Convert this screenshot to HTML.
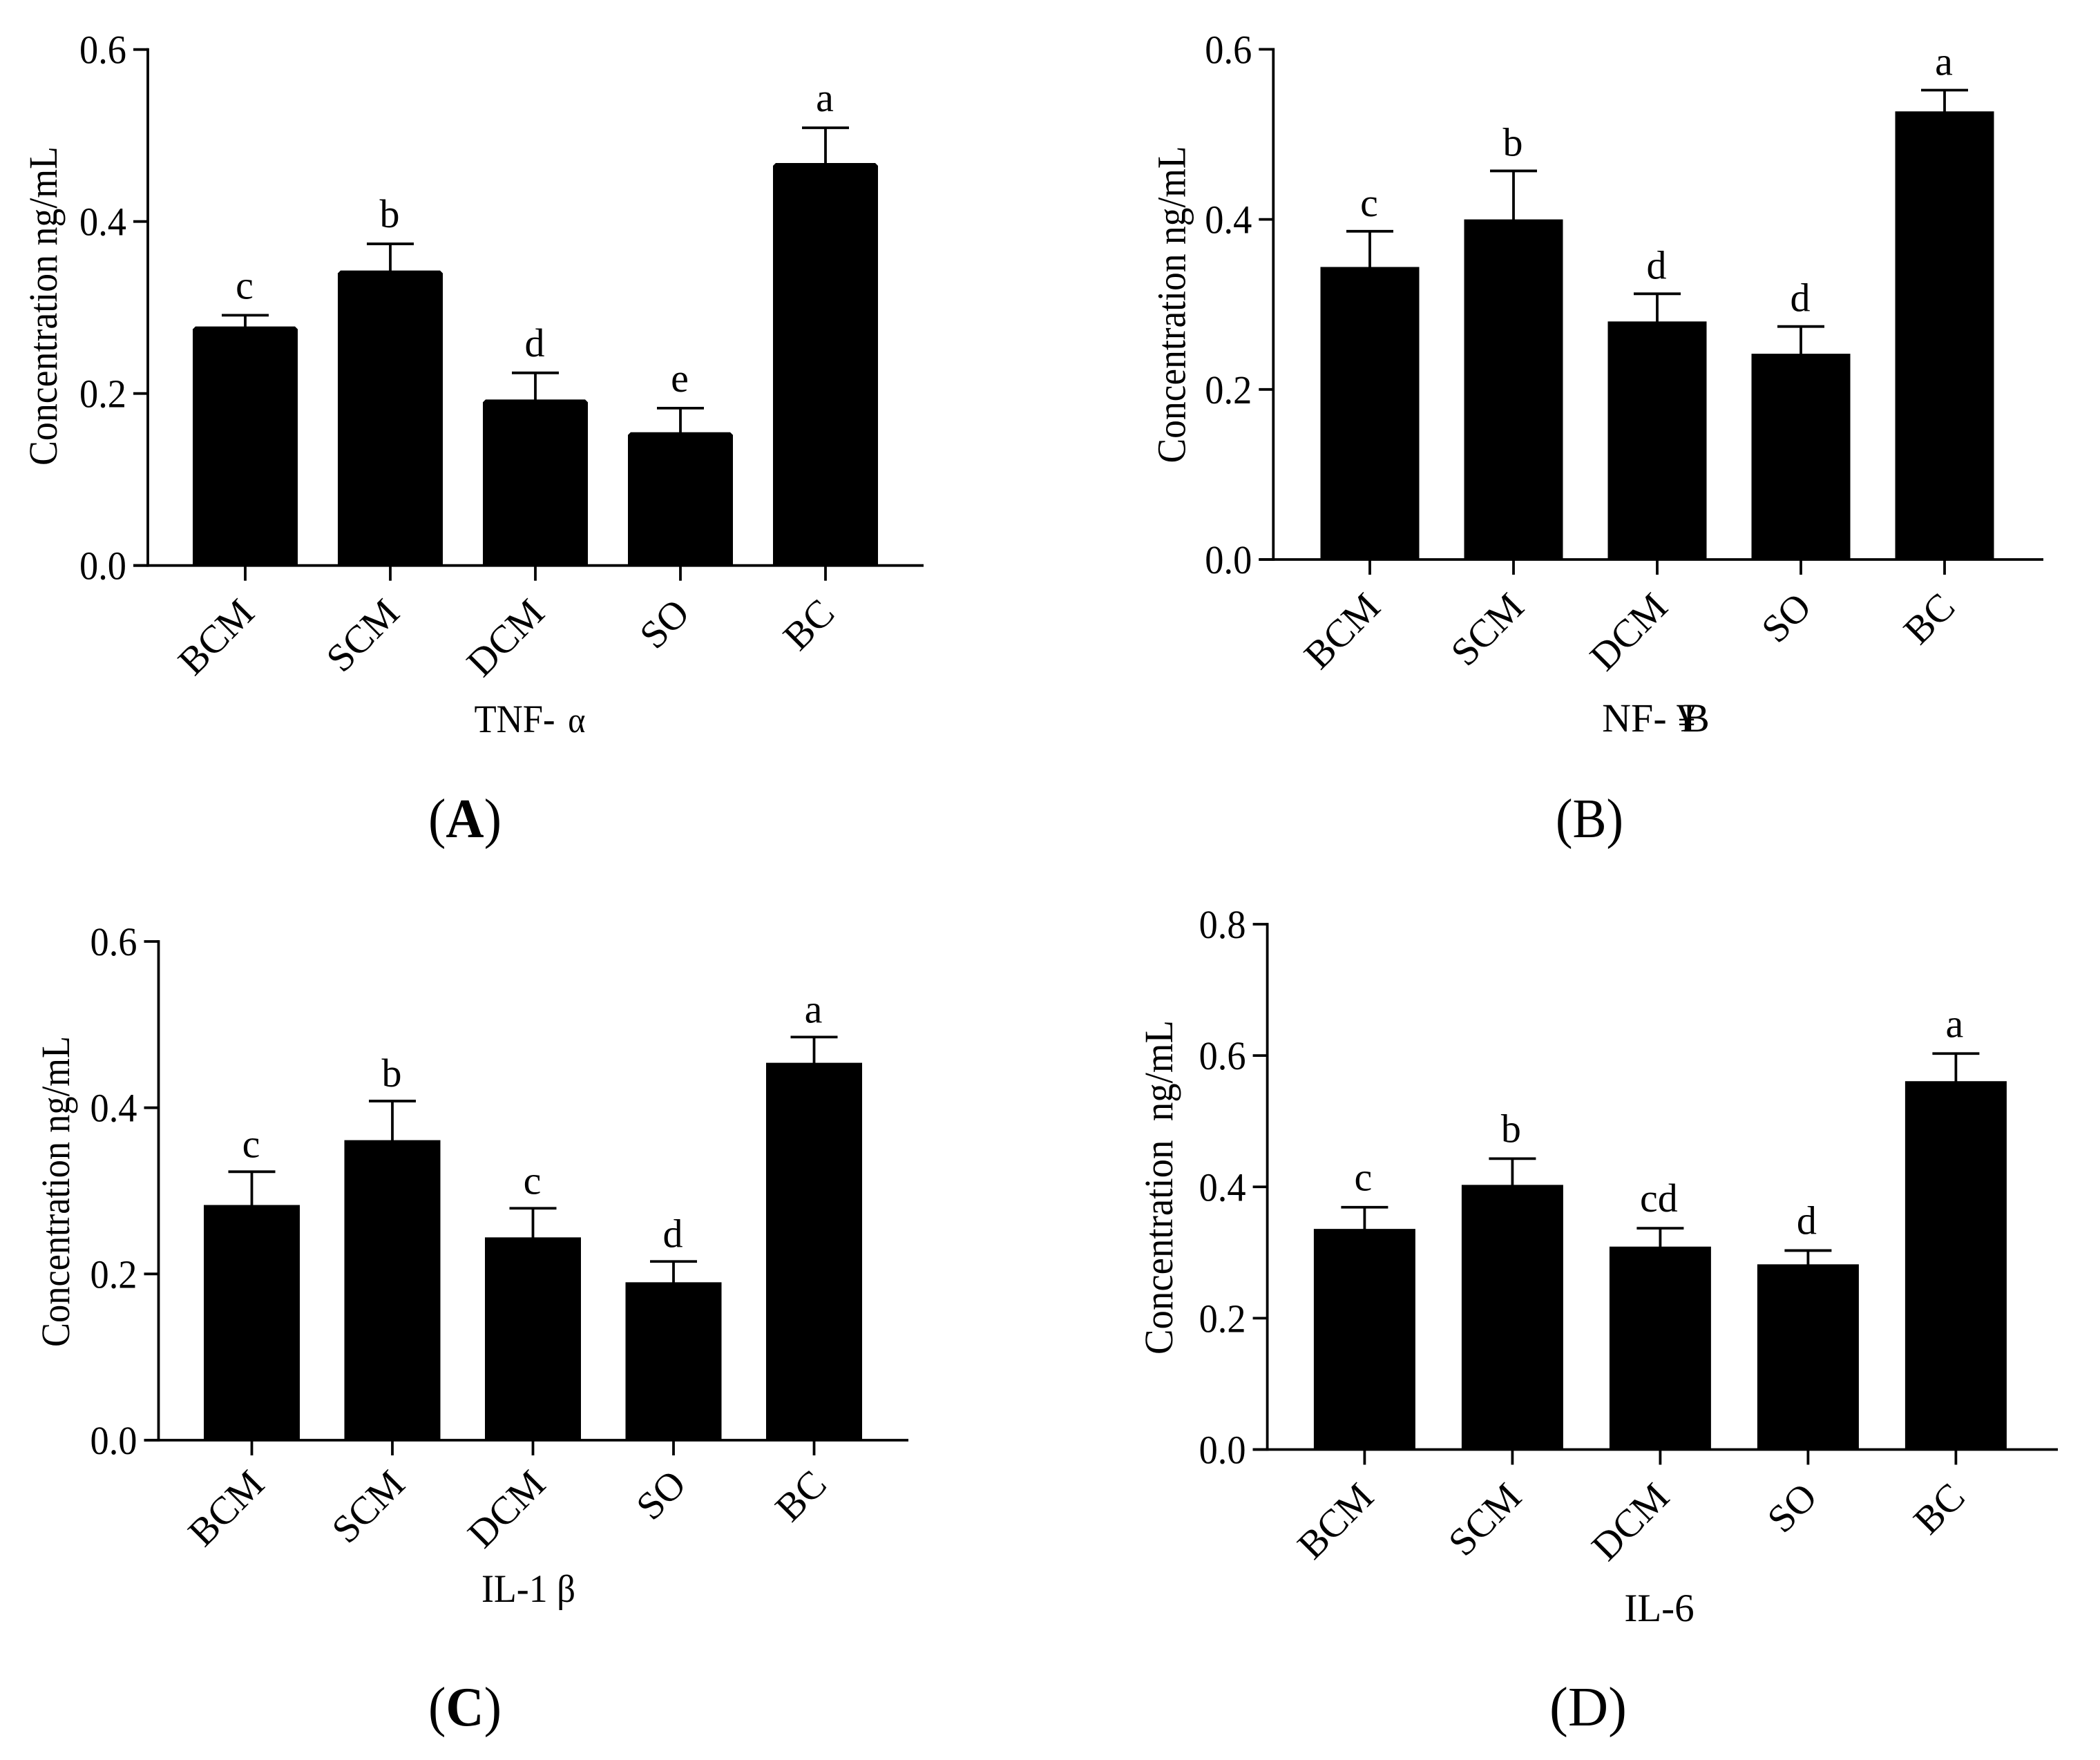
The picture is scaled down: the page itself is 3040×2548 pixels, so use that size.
<!DOCTYPE html>
<html lang="en">
<head>
<meta charset="utf-8">
<title>Cytokine concentrations</title>
<style>
html,body{margin:0;padding:0;background:#fff;}
svg{display:block;}
text{font-family:"Liberation Serif",serif;fill:#000;white-space:pre;}
</style>
</head>
<body>
<svg id="figure" xmlns="http://www.w3.org/2000/svg" width="3040" height="2548" viewBox="0 0 3040 2548">
  <rect x="0" y="0" width="3040" height="2548" fill="#fff"/>

  <text font-size="58" text-anchor="middle" textLength="462" lengthAdjust="spacingAndGlyphs" transform="translate(82,443) rotate(-90)">Concentration ng/mL</text>
  <text font-size="57" text-anchor="middle" x="767" y="1060" textLength="161" lengthAdjust="spacingAndGlyphs">TNF- <tspan font-size="52" dx="6">α</tspan></text>
  <text font-size="80" text-anchor="middle" x="673" y="1212" textLength="106" lengthAdjust="spacingAndGlyphs">(<tspan font-weight="bold">A</tspan>)</text>

  <text font-size="58" text-anchor="middle" textLength="459" lengthAdjust="spacingAndGlyphs" transform="translate(1715.5,441) rotate(-90)">Concentration ng/mL</text>
  <text font-size="58" text-anchor="middle" x="2397" y="1059">NF- ¥<tspan dx="-20">B</tspan></text>
  <text font-size="80" text-anchor="middle" x="2301" y="1212" textLength="98" lengthAdjust="spacingAndGlyphs">(B)</text>

  <text font-size="58" text-anchor="middle" textLength="450" lengthAdjust="spacingAndGlyphs" transform="translate(100,1725) rotate(-90)">Concentration ng/mL</text>
  <text font-size="57" text-anchor="middle" x="765" y="2319" textLength="136" lengthAdjust="spacingAndGlyphs">IL-1 <tspan font-size="56">β</tspan></text>
  <text font-size="80" text-anchor="middle" x="673" y="2498" textLength="106" lengthAdjust="spacingAndGlyphs">(<tspan font-weight="bold">C</tspan>)</text>

  <text font-size="58" text-anchor="middle" textLength="484" lengthAdjust="spacingAndGlyphs" transform="translate(1697,1719) rotate(-90)">Concentration  ng/mL</text>
  <text font-size="57" text-anchor="middle" x="2402" y="2347">IL-6</text>
  <text font-size="80" text-anchor="middle" x="2299" y="2498" textLength="112" lengthAdjust="spacingAndGlyphs">(D)</text>
</svg>
<script>
const categories = ['BCM', 'SCM', 'DCM', 'SO', 'BC'];

const tnfMeans = [0.278, 0.343, 0.193, 0.155, 0.468];
const tnfErrorTops = [0.291, 0.374, 0.224, 0.183, 0.509];
const tnfLetters = ['c', 'b', 'd', 'e', 'a'];
const tnfTicks = [0, 0.2, 0.4, 0.6];

const nfkbMeans = [0.344, 0.400, 0.280, 0.242, 0.527];
const nfkbErrorTops = [0.386, 0.457, 0.3125, 0.274, 0.552];
const nfkbLetters = ['c', 'b', 'd', 'd', 'a'];
const nfkbTicks = [0, 0.2, 0.4, 0.6];

const il1Means = [0.283, 0.361, 0.244, 0.190, 0.454];
const il1ErrorTops = [0.323, 0.408, 0.279, 0.215, 0.485];
const il1Letters = ['c', 'b', 'c', 'd', 'a'];
const il1Ticks = [0, 0.2, 0.4, 0.6];

const il6Means = [0.336, 0.403, 0.309, 0.282, 0.561];
const il6ErrorTops = [0.369, 0.443, 0.337, 0.303, 0.603];
const il6Letters = ['c', 'b', 'cd', 'd', 'a'];
const il6Ticks = [0, 0.2, 0.4, 0.6, 0.8];

const svg = document.getElementById('figure');
const NS = 'http://www.w3.org/2000/svg';

function make(tag, parent) {
  const el = document.createElementNS(NS, tag);
  parent.appendChild(el);
  return el;
}

function drawLine(parent, name, x1, y1, x2, y2, width) {
  const el = make('line', parent);
  
  
  el.setAttribute('x1', x1);
  el.setAttribute('y1', y1);
  el.setAttribute('x2', x2);
  el.setAttribute('y2', y2);
  el.setAttribute('stroke', '#000');
  el.setAttribute('stroke-width', width);
  return el;
}

function drawPanel(id, box, means, errorTops, letters, ticks) {
  const group = make('g', svg);
  
  

  const yMax = ticks[ticks.length - 1];
  const yScale = function (v) { return box.y0 - (v / yMax) * (box.y0 - box.yTop); };
  const xScale = function (i) { return box.first + i * box.step; };

  categories.forEach(function (cat, i) {
    const cx = xScale(i);
    const top = yScale(means[i]);
    const errY = yScale(errorTops[i]);

    const err = drawLine(group, id + '-error-stem-' + cat.toLowerCase(), cx, top + 2, cx, errY, 3.8);
    err.setAttribute('data-value', errorTops[i]);
    drawLine(group, id + '-error-cap-' + cat.toLowerCase(), cx - 34, errY, cx + 34, errY, 3.8);

    const bar = make('path', group);
    
    
    const l = cx - box.barWidth / 2;
    const r = cx + box.barWidth / 2;
    const c = box.chamfer;
    bar.setAttribute('d', 'M' + l + ' ' + box.y0 + 'L' + l + ' ' + (top + c) + 'L' + (l + c) + ' ' + top +
      'L' + (r - c) + ' ' + top + 'L' + r + ' ' + (top + c) + 'L' + r + ' ' + box.y0 + 'Z');
    bar.setAttribute('fill', '#000');

    const letter = make('text', group);
    
    
    letter.setAttribute('x', cx + box.letterDx);
    letter.setAttribute('y', errY - box.letterGap);
    letter.setAttribute('font-size', 58);
    letter.setAttribute('text-anchor', 'middle');
    letter.textContent = letters[i];

    drawLine(group, id + '-x-tick-' + cat.toLowerCase(), cx, box.y0, cx, box.y0 + 22, 3.8);

    const label = make('text', group);
    
    
    label.setAttribute('font-size', 57);
    label.setAttribute('text-anchor', 'end');
    label.setAttribute('transform', 'translate(' + (cx + box.labelDx) + ',' + (box.y0 + box.labelDy) + ') rotate(-45)');
    label.textContent = cat;
  });

  drawLine(group, id + '-y-axis', box.axisX, box.yTop - 1.9, box.axisX, box.y0 + 1.9, 3.8);
  drawLine(group, id + '-x-axis', box.axisX - 21, box.y0, box.xEnd, box.y0, 3.8);

  ticks.forEach(function (t) {
    const y = yScale(t);
    drawLine(group, id + '-y-tick-' + t.toFixed(1), box.axisX - 21, y, box.axisX, y, 3.8);

    const tickLabel = make('text', group);
    
    
    tickLabel.setAttribute('x', box.axisX - 31);
    tickLabel.setAttribute('y', y + 20);
    tickLabel.setAttribute('font-size', 58);
    tickLabel.setAttribute('text-anchor', 'end');
    tickLabel.setAttribute('textLength', 68);
    tickLabel.setAttribute('lengthAdjust', 'spacingAndGlyphs');
    tickLabel.textContent = t.toFixed(1);
  });
}

drawPanel('panel-a',
  { axisX: 214, y0: 818.7, yTop: 71.7, xEnd: 1337, first: 355, step: 210, barWidth: 152, chamfer: 4, letterGap: 24, letterDx: -1, labelDx: 16, labelDy: 72 },
  tnfMeans, tnfErrorTops, tnfLetters, tnfTicks);
drawPanel('panel-b',
  { axisX: 1843.3, y0: 810, yTop: 71.4, xEnd: 2958, first: 1983, step: 208, barWidth: 143, chamfer: 0, letterGap: 22, letterDx: -1, labelDx: 18, labelDy: 72 },
  nfkbMeans, nfkbErrorTops, nfkbLetters, nfkbTicks);
drawPanel('panel-c',
  { axisX: 229.5, y0: 2085, yTop: 1363, xEnd: 1315, first: 364.5, step: 203.5, barWidth: 139, chamfer: 0, letterGap: 21, letterDx: -1, labelDx: 21, labelDy: 67 },
  il1Means, il1ErrorTops, il1Letters, il1Ticks);
drawPanel('panel-d',
  { axisX: 1834.6, y0: 2098.5, yTop: 1338, xEnd: 2979, first: 1975.4, step: 214, barWidth: 147, chamfer: 0, letterGap: 24, letterDx: -2, labelDx: 16, labelDy: 72 },
  il6Means, il6ErrorTops, il6Letters, il6Ticks);
</script>
</body>
</html>
